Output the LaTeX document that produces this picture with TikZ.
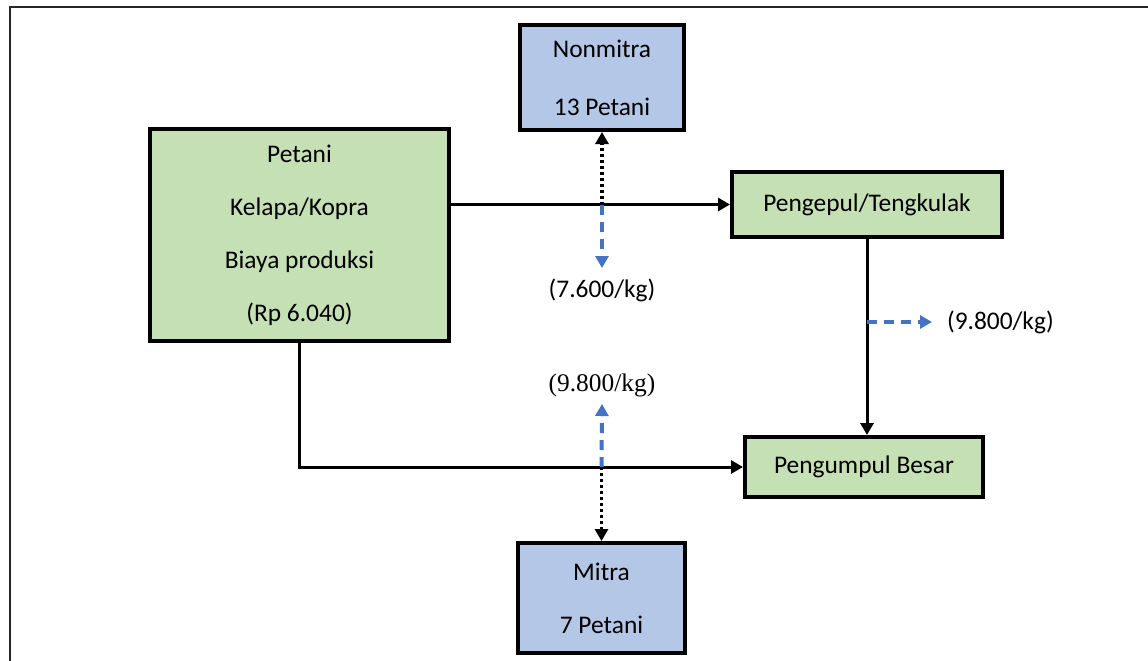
\documentclass[tikz,border=0pt]{standalone}
\usepackage{fontspec}
\setmainfont{Carlito}
\newfontfamily\timesfont{Liberation Serif}
\usetikzlibrary{arrows.meta}
\definecolor{boxgreen}{HTML}{C5E0B4}
\definecolor{boxblue}{HTML}{B4C7E7}
\definecolor{priceblue}{HTML}{4472C4}
\begin{document}
\begin{tikzpicture}[x=0.5pt,y=-0.5pt,
  greenbox/.style={draw,line width=2pt,fill=boxgreen,inner sep=0pt,align=center},
  bluebox/.style={draw,line width=2pt,fill=boxblue,inner sep=0pt,align=center},
  flow/.style={line width=1.5pt,-{Triangle[length=6pt,width=6.5pt]}},
  member/.style={line width=1.8pt,dash pattern=on 1.5pt off 1.5pt,-{Triangle[length=6pt,width=6.5pt]}},
  price/.style={line width=2pt,priceblue,dash pattern=on 5pt off 3.5pt,-{Triangle[length=6pt,width=6.5pt,fill=priceblue]}},
  font=\fontsize{12.7}{26.5}\selectfont]
  \clip (0,0) rectangle (1148,660);
  \useasboundingbox (0,0) rectangle (1148,660);
  \draw[line width=1.1pt,black!85] (10,7) rectangle (1170,690);
  \node[greenbox,minimum width=149.5pt,minimum height=106pt] (petani) at (299.5,235)
    {Petani\\Kelapa/Kopra\\Biaya produksi\\(Rp 6.040)};
  \node[bluebox,minimum width=82pt,minimum height=52.5pt] (nonmitra) at (602,77.5)
    {Nonmitra\\[2.5pt]13 Petani};
  \node[greenbox,minimum width=135pt,minimum height=32.5pt] (pengepul) at (867,204.5)
    {Pengepul/Tengkulak};
  \node[greenbox,minimum width=119pt,minimum height=30pt] (pengumpul) at (864,467)
    {Pengumpul Besar};
  \node[bluebox,minimum width=83.5pt,minimum height=55pt] (mitra) at (601.5,598)
    {Mitra\\7 Petani};
  % jalur pengepul
  \draw[flow] (pengepul.west -| petani.east) -- (pengepul.west);
  \coordinate (jnon) at (nonmitra.south |- pengepul.west);
  \draw[member] (jnon) -- (nonmitra.south);
  \coordinate (pnon) at (602,268);
  \draw[price] (jnon) -- (pnon);
  \node[anchor=north] (hnon) at (602,272) {(7.600/kg)};
  % pengepul ke pengumpul besar
  \draw[flow] (pengepul.south) -- (pengepul.south |- pengumpul.north);
  \coordinate (jpg) at (pengepul.south |- 0,322);
  \coordinate (ppg) at (932,322);
  \draw[price] (jpg) -- (ppg);
  \node[anchor=west] (hpg) at (940,322) {(9.800/kg)};
  % jalur mitra
  \draw[flow] (petani.south) |- (pengumpul.west);
  \coordinate (jmit) at (mitra.north |- pengumpul.west);
  \draw[member] (jmit) -- (mitra.north);
  \coordinate (pmit) at (602,404);
  \draw[price] (jmit) -- (pmit);
  \node (hmit) at (602,385) {\timesfont (9.800/kg)};
\end{tikzpicture}
\end{document}
